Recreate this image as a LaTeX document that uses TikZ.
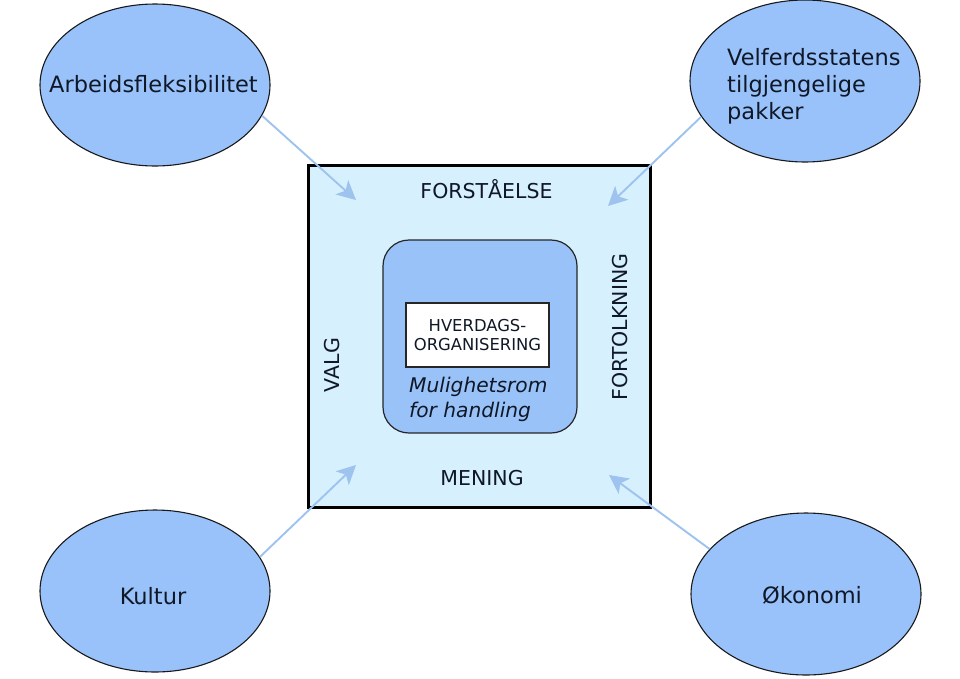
\documentclass[tikz,border=0pt]{standalone}
\usepackage{fontspec}
\setmainfont{DejaVu Sans}
\usetikzlibrary{shapes.geometric,arrows.meta}
\definecolor{ellfill}{HTML}{99C2FA}
\definecolor{sqfill}{HTML}{D6F0FE}
\definecolor{innerfill}{HTML}{99C2F8}
\definecolor{arrcol}{HTML}{9DC3EE}
\definecolor{txt}{HTML}{101828}
\tikzset{
  factor/.style={ellipse,draw=black!90,line width=1.1pt,fill=ellfill,minimum width=230pt,minimum height=162pt,inner sep=0pt},
  factortext/.style={inner sep=0pt,font=\fontsize{22.5}{27}\selectfont,text=txt},
  influence/.style={draw=arrcol,line width=1.9pt,-{Stealth[length=19pt,width=19pt,inset=5pt]}},
  sqlabel/.style={font=\fontsize{20.5}{24}\selectfont,text=txt,inner sep=0pt,anchor=base},
}
\begin{document}
\begin{tikzpicture}[x=1pt,y=-1pt]
\useasboundingbox (0,0) rectangle (960,678);
\fill[white] (0,0) rectangle (960,678);
% central square
\node[draw=black,line width=3pt,fill=sqfill,minimum width=342pt,minimum height=342pt,inner sep=0pt] (sq) at (479,336) {};
\node[draw=black!85,line width=1.2pt,fill=innerfill,rounded corners=26pt,minimum width=194pt,minimum height=193pt,inner sep=0pt] (inner) at (480,336.5) {};
\node[draw=black!85,line width=1.2pt,fill=white,minimum width=143pt,minimum height=64pt,inner sep=0pt,align=center,font=\fontsize{16.4}{18.5}\selectfont,text=txt] (hverd) at (477.5,335) {HVERDAGS-\\ORGANISERING};
\node[anchor=north west,align=left,inner sep=0pt,font=\fontsize{20.2}{25}\selectfont\itshape,text=txt] (mul) at (409,377) {Mulighetsrom\\for handling};
\node[sqlabel] (forst) at (486.5,198) {FORSTÅELSE};
\node[sqlabel] (mening) at (482,485) {MENING};
\node[sqlabel,rotate=90] (valg) at (339,365) {VALG};
\node[sqlabel,rotate=90] (fort) at (627,327) {FORTOLKNING};
% factors
\node[factor] (arb) at (155,85) {};
\node[factor] (velf) at (805,81) {};
\node[factor] (kul) at (155,591) {};
\node[factor] (oko) at (806,594) {};
\node[factortext] (arbt) at (153.5,84.5) {Arbeidsfleksibilitet};
\node[factortext,anchor=north west,align=left] (velft) at (727,48.5) {Velferdsstatens\\tilgjengelige\\pakker};
\node[factortext] (kult) at (153,596) {Kultur};
\node[factortext] (okot) at (812,595) {Økonomi};
% arrow ends
\coordinate (e1) at (356,200);
\coordinate (e2) at (608,206);
\coordinate (e3) at (356,465);
\coordinate (e4) at (609,475);
\draw[influence] (arb.-16.5) -- (e1);
\draw[influence] (velf.199) -- (e2);
\draw[influence] (kul.18) -- (e3);
\draw[influence] (oko.155.6) -- (e4);
\end{tikzpicture}
\end{document}
